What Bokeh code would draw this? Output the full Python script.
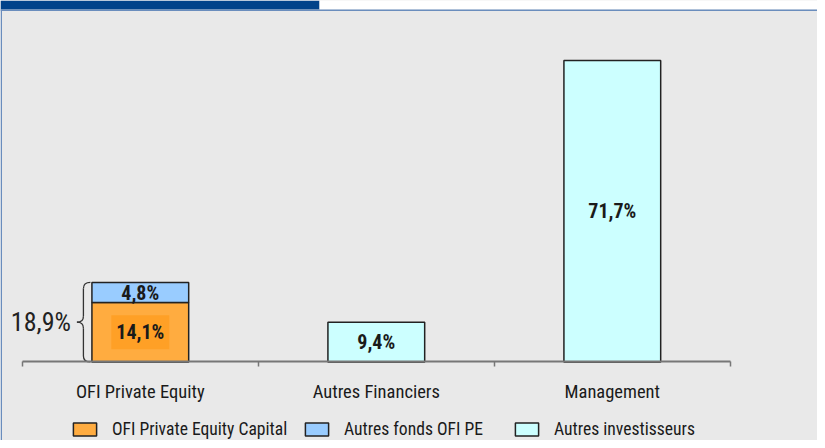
from bokeh.plotting import figure
from bokeh.models import Range1d, FixedTicker, Legend, LegendItem, BoxAnnotation, ColumnDataSource
from bokeh.core.properties import value
from bokeh.embed import file_html
from bokeh.resources import INLINE

# ---------------- data ----------------
categories = ["OFI Private Equity", "Autres Financiers", "Management"]
series_names = ["OFI Private Equity Capital", "Autres fonds OFI PE", "Autres investisseurs"]
ofi_pe_capital = [14.1, 0.0, 0.0]
autres_fonds_ofi_pe = [4.8, 0.0, 0.0]
autres_investisseurs = [0.0, 9.4, 71.7]
series_values = [ofi_pe_capital, autres_fonds_ofi_pe, autres_investisseurs]

# ---------------- style ----------------
series_colors = ["#FFAC40", "#99CCFF", "#CCFFFF"]
label_boxes = ["#FFA026", None, None]
BG = "#E9E9E9"
FONT = "'Roboto Condensed', 'Liberation Sans Narrow', sans-serif"
W, H = 817, 440
AXIS_Y = 361.4             # pixel row of the baseline
X0 = 21.8                  # pixel column of the first category boundary
X_PX = 708 / 3.0           # pixels per category
Y_PX = 301.5 / 71.7        # pixels per percent
BAR_W = 0.41

def fmt(v):
    return ("%.1f" % v).replace(".", ",") + "%"

p = figure(width=W, height=H, output_backend="svg", toolbar_location=None,
           x_range=Range1d(-X0 / X_PX, (W - X0) / X_PX),
           y_range=Range1d(-(H - AXIS_Y) / Y_PX, AXIS_Y / Y_PX),
           min_border_left=0, min_border_right=0, min_border_top=0, min_border_bottom=0,
           y_axis_location=None)
p.background_fill_color = BG
p.border_fill_color = BG
p.outline_line_color = None
p.grid.visible = False

def canvas_box(l, r, t, b, color):
    return BoxAnnotation(left=l, right=r, top=t, bottom=b, left_units="canvas", right_units="canvas",
                         top_units="canvas", bottom_units="canvas", fill_color=color,
                         fill_alpha=1, line_color=None, level="underlay")

# header decoration
p.add_layout(canvas_box(0, 319, 0, 9, "#00428A"))
p.add_layout(canvas_box(319, W, 0, 9, "white"))
p.add_layout(canvas_box(0, W, 9, 10.5, "#6A8DBD"))
p.add_layout(canvas_box(0, 1.5, 9, H, "#6A8DBD"))

# ---------------- bars ----------------
n = len(categories)
centers = [i + 0.5 for i in range(n)]
bottoms = [0.0] * n
renderers = []
label_x, label_y, label_t, label_bg = [], [], [], []
for vals, color, lbox in zip(series_values, series_colors, label_boxes):
    xs, tops, bots = [], [], []
    for i, v in enumerate(vals):
        if v > 0:
            xs.append(centers[i]); bots.append(bottoms[i]); tops.append(bottoms[i] + v)
            label_x.append(centers[i]); label_y.append(bottoms[i] + v / 2)
            label_t.append(fmt(v)); label_bg.append(lbox)
    r = p.vbar(x=xs, bottom=bots, top=tops, width=BAR_W, fill_color=color,
               line_color="#222222", line_width=1.5)
    renderers.append(r)
    bottoms = [b + v for b, v in zip(bottoms, vals)]

lab = ColumnDataSource(dict(x=label_x, y=label_y, t=label_t, bg=label_bg))
p.text(x="x", y="y", text="t", source=lab, text_align="center", text_baseline="middle",
       text_font=value(FONT), text_font_size="20px", text_font_style="bold", text_color="#1A1A1A",
       background_fill_color="bg", padding=5)

# ---------------- brace for first category total ----------------
total0 = sum(v[0] for v in series_values[:2])
px = 1.0 / X_PX
py = 1.0 / Y_PX
bl = centers[0] - BAR_W / 2
xe, xs_, xt = bl - 1.5 * px, bl - 8.5 * px, bl - 15 * px
r_ = 6 * py
mid = total0 / 2
p.quadratic(x0=[xe, xs_, xt, xs_], y0=[0, mid - r_, mid, total0 - r_],
            x1=[xs_, xt, xs_, xe], y1=[r_, mid, mid + r_, total0],
            cx=[xs_, xs_, xs_, xs_], cy=[0, mid, mid, total0],
            line_color="#333333", line_width=1.3)
p.segment(x0=[xs_, xs_], y0=[r_, mid + r_], x1=[xs_, xs_], y1=[mid - r_, total0 - r_],
          line_color="#333333", line_width=1.3)
p.text(x=[xt - 6 * px], y=[mid], text=[fmt(total0)], text_align="right", text_baseline="middle",
       text_font=value(FONT), text_font_size="26px", text_color="#222222")

# ---------------- axis ----------------
ax = p.xaxis[0]
ax.fixed_location = 0
ax.ticker = FixedTicker(ticks=centers, minor_ticks=list(range(n + 1)))
ax.major_label_overrides = {c: name for c, name in zip(centers, categories)}
ax.bounds = (0, n)
ax.axis_line_color = "#777777"
ax.axis_line_width = 2
ax.major_tick_line_color = None
ax.major_tick_out = 0
ax.major_tick_in = 0
ax.minor_tick_line_color = "#777777"
ax.minor_tick_line_width = 1.5
ax.minor_tick_out = 5
ax.minor_tick_in = 0
ax.major_label_standoff = 14
ax.major_label_text_font = FONT
ax.major_label_text_font_size = "18.5px"
ax.major_label_text_color = "#1A1A1A"

# ---------------- legends ----------------
legend_x = [70, 302, 512]
for name, r, lx in zip(series_names, renderers, legend_x):
    lg = Legend(items=[LegendItem(label=name, renderers=[r])], location=(lx, 1),
                orientation="horizontal", padding=0, margin=0, spacing=0,
                glyph_width=29, glyph_height=16, label_standoff=13,
                label_text_font=FONT, label_text_font_size="17.6px", label_text_color="#1A1A1A",
                background_fill_alpha=0, border_line_color=None, label_height=16)
    p.add_layout(lg)

open("out.html", "w").write(file_html(p, INLINE))
